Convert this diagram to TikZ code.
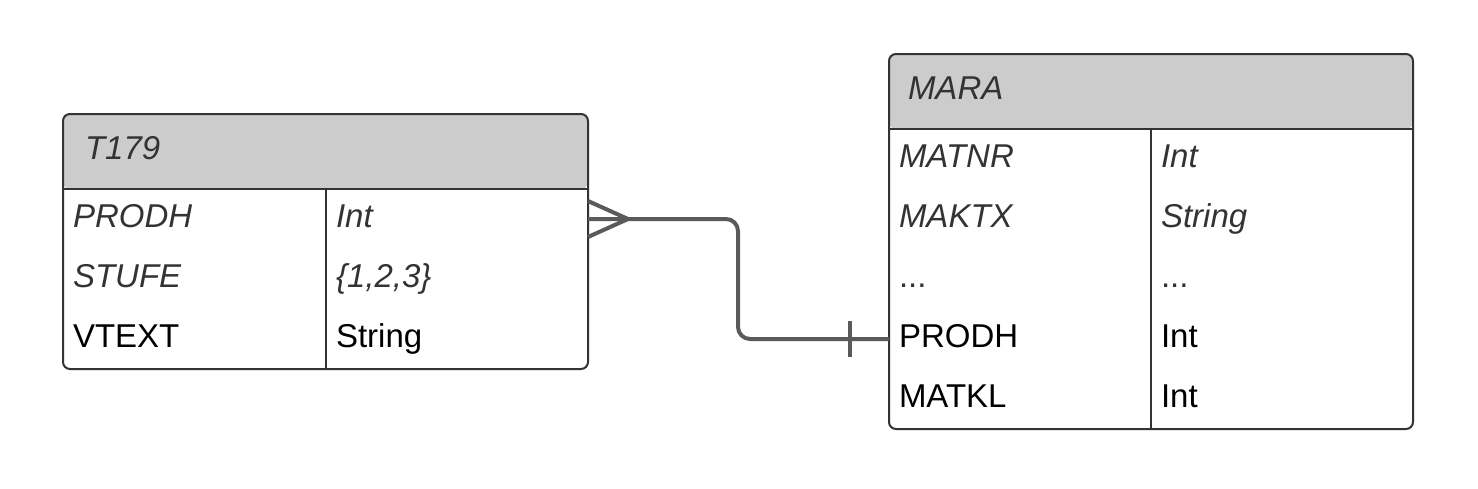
\documentclass[tikz,border=0pt]{standalone}
\usepackage{fontspec}
\setmainfont{Liberation Sans}
\definecolor{hdr}{HTML}{CCCCCC}
\definecolor{bord}{HTML}{333333}
\definecolor{itxt}{HTML}{333333}
\definecolor{connc}{HTML}{5A5A5A}
\begin{document}
\begin{tikzpicture}[x=1pt,y=-1pt,
  every node/.style={font=\fontsize{33}{40}\selectfont},
  tablebox/.style={draw=bord, line width=2pt, rounded corners=7pt, inner sep=0pt, outer sep=0pt, anchor=north west,
    path picture={\fill[hdr] (path picture bounding box.north west) rectangle ([yshift=-75pt]path picture bounding box.north east);}},
  sepline/.style={draw=bord, line width=2pt},
  cell/.style={anchor=west, inner xsep=10pt, inner ysep=0pt, outer sep=0pt, text height=24pt, text depth=8pt, minimum height=60pt, align=left},
  colA/.style={text width=242pt},
  colB/.style={text width=242pt},
  title/.style={anchor=west, inner ysep=0pt, outer sep=0pt, text height=24pt, text depth=10pt, text=itxt, font=\fontsize{33}{40}\selectfont\itshape},
  ikey/.style={cell, text=itxt, font=\fontsize{33}{40}\selectfont\itshape},
  pkey/.style={cell, text=black},
  dkey/.style={cell, text=itxt},
  connline/.style={draw=connc, line width=4pt}
]
\useasboundingbox (0,0) rectangle (1478,488);

% ---- T179 ----
\node[tablebox, minimum width=525pt, minimum height=255pt] (t179) at (63,114) {};
\draw[sepline] ([yshift=-75pt]t179.north west) -- ([yshift=-75pt]t179.north east);
\draw[sepline] (326,189) -- (326,369);
\node[title, inner xsep=22pt] (t179-title) at (63,152) {T179};
\node[ikey, colA, text width=243pt] (t179-prodh) at (63,219) {PRODH};
\node[ikey, colB, text width=242pt] (t179-prodh-t) at (326,219) {Int};
\node[ikey, colA, text width=243pt] (t179-stufe) at (63,279) {STUFE};
\node[ikey, colB, text width=242pt] (t179-stufe-t) at (326,279) {\{1,2,3\}};
\node[pkey, colA, text width=243pt] (t179-vtext) at (63,339) {VTEXT};
\node[pkey, colB, text width=242pt] (t179-vtext-t) at (326,339) {String};

% ---- MARA ----
\node[tablebox, minimum width=524pt, minimum height=375pt] (mara) at (889,54) {};
\draw[sepline] ([yshift=-75pt]mara.north west) -- ([yshift=-75pt]mara.north east);
\draw[sepline] (1151,129) -- (1151,429);
\node[title, inner xsep=19pt] (mara-title) at (889,92) {MARA};
\node[ikey, colA] (mara-matnr) at (889,159) {MATNR};
\node[ikey, colB] (mara-matnr-t) at (1151,159) {Int};
\node[ikey, colA] (mara-maktx) at (889,219) {MAKTX};
\node[ikey, colB] (mara-maktx-t) at (1151,219) {String};
\node[dkey, colA] (mara-dots) at (889,279) {...};
\node[dkey, colB] (mara-dots-t) at (1151,279) {...};
\node[pkey, colA] (mara-prodh) at (889,339) {PRODH};
\node[pkey, colB] (mara-prodh-t) at (1151,339) {Int};
\node[pkey, colA] (mara-matkl) at (889,399) {MATKL};
\node[pkey, colB] (mara-matkl-t) at (1151,399) {Int};

% ---- relationship ----
\coordinate (bend) at (738,0);
\draw[connline, rounded corners=12pt] (t179-prodh-t.east) -- (t179-prodh-t.east -| bend) -- (bend |- mara-prodh.west) -- (mara-prodh.west);
% crow's foot (many) at T179
\draw[connline] ([yshift=18pt]t179-prodh-t.east) -- ([xshift=40pt]t179-prodh-t.east) -- ([yshift=-18pt]t179-prodh-t.east);
% bar (one) at MARA
\draw[connline] ([xshift=-39pt,yshift=18pt]mara-prodh.west) -- ([xshift=-39pt,yshift=-18pt]mara-prodh.west);
\end{tikzpicture}
\end{document}
